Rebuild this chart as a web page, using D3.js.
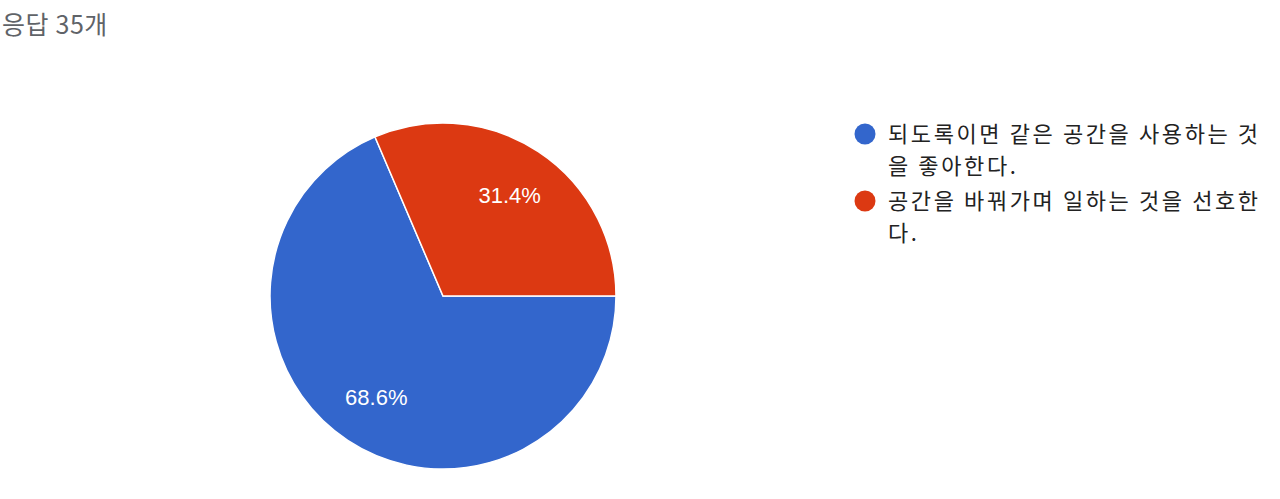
<!DOCTYPE html>
<html>
<head>
<meta charset="utf-8">
<script src="https://cdn.jsdelivr.net/npm/d3@7"></script>
<style>
  body { margin: 0; background: #fff; }
  svg { display: block; }
</style>
</head>
<body>
<svg width="1280" height="499"></svg>
<script>
var title = "응답 35개";
var categories = [
  ["되도록이면 같은 공간을 사용하는 것", "을 좋아한다."],
  ["공간을 바꿔가며 일하는 것을 선호한", "다."]
];
var counts = [24, 11];
var colors = ["#3366cc", "#dc3912"];

var svg = d3.select("svg"),
    cx = 443, cy = 296, radius = 173;

svg.append("text")
    .attr("x", 2)
    .attr("y", 34)
    .attr("font-family", "'Noto Sans CJK KR', sans-serif")
    .attr("font-size", 25)
    .attr("letter-spacing", 0.6)
    .attr("fill", "#5f6368")
    .text(title);

var total = d3.sum(counts);
var pie = d3.pie()
    .sort(null)
    .startAngle(Math.PI / 2)
    .endAngle(Math.PI / 2 + 2 * Math.PI);
var arcs = pie(counts);

var arc = d3.arc().innerRadius(0).outerRadius(radius);
var labelArc = d3.arc().innerRadius(radius * 0.7).outerRadius(radius * 0.7);

var g = svg.append("g").attr("transform", "translate(" + cx + "," + cy + ")");

g.selectAll("path")
    .data(arcs)
    .enter().append("path")
    .attr("d", arc)
    .attr("fill", function (d, i) { return colors[i]; })
    .attr("stroke", "#fff")
    .attr("stroke-width", 1.5);

g.selectAll("text")
    .data(arcs)
    .enter().append("text")
    .attr("transform", function (d) { return "translate(" + labelArc.centroid(d) + ")"; })
    .attr("text-anchor", "middle")
    .attr("dy", "0.36em")
    .attr("font-family", "Arial, 'Liberation Sans', sans-serif")
    .attr("font-size", 22)
    .attr("fill", "#fff")
    .text(function (d) { return (d.value / total * 100).toFixed(1) + "%"; });

var legend = svg.append("g").attr("transform", "translate(865,0)");
var itemY = [134, 201];
var items = legend.selectAll("g")
    .data(categories)
    .enter().append("g")
    .attr("transform", function (d, i) { return "translate(0," + itemY[i] + ")"; });

items.append("circle")
    .attr("r", 10.5)
    .attr("fill", function (d, i) { return colors[i]; });

items.append("text")
    .attr("font-family", "'Noto Sans CJK KR', sans-serif")
    .attr("font-size", 22)
    .attr("letter-spacing", 2.6)
    .attr("fill", "#222")
    .selectAll("tspan")
    .data(function (d) { return d; })
    .enter().append("tspan")
    .attr("x", 23)
    .attr("y", function (d, j) { return 8 + j * 32; })
    .text(function (d) { return d; });
</script>
</body>
</html>
